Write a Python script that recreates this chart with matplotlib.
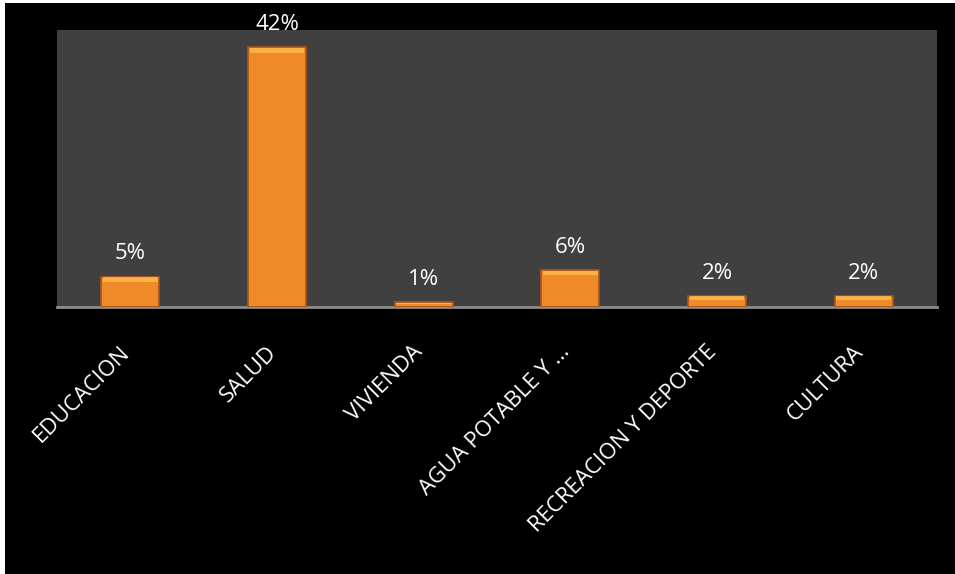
import matplotlib.pyplot as plt
from matplotlib.patches import Rectangle
import numpy as np

# datos del grafico
categorias = ["EDUCACION", "SALUD", "VIVIENDA", "AGUA POTABLE Y ...",
              "RECREACION Y DEPORTE", "CULTURA"]
porcentajes = [4.9, 42.0, 0.8, 6.0, 1.8, 1.8]
etiquetas = ["5%", "42%", "1%", "6%", "2%", "2%"]

W, H = 955, 574
fig = plt.figure(figsize=(W / 100, H / 100), dpi=100)
fig.patch.set_facecolor("white")

# fondo negro del recuadro (detras de los ejes)
fig.patches.append(Rectangle((5 / W, 0), 1 - 5 / W, 1 - 3 / H,
                             transform=fig.transFigure, facecolor="black",
                             edgecolor="none", zorder=-10))

ax = fig.add_axes([57 / W, (H - 307) / H, 880 / W, 277 / H])
ax.set_facecolor("#404040")

x = np.arange(len(categorias))
bars = ax.bar(x, porcentajes, width=0.395, color="#F08A28",
              edgecolor="#A9561A", linewidth=1.2, zorder=3)

# brillo superior en cada barra
for b in bars:
    h = b.get_height()
    hl = min(h * 0.3, 0.8)
    ax.add_patch(Rectangle((b.get_x() + 0.012, h - hl - 0.1), b.get_width() - 0.024, hl,
                           facecolor="#FFB84D", edgecolor="none", alpha=0.85, zorder=4))

for xi, v, t in zip(x, porcentajes, etiquetas):
    ax.annotate(t, (xi, v), xytext=(0, 12.5), textcoords="offset points",
                ha="center", va="baseline", color="white", fontsize=16,
                family="Open Sans", annotation_clip=False)

ax.set_xlim(-0.5, len(categorias) - 0.5)
ax.set_ylim(0, 44.8)
ax.set_yticks([])
ax.set_xticks(x)
ax.set_xticklabels(categorias, rotation=45, ha="right", va="baseline",
                   rotation_mode="anchor", color="white", fontsize=16,
                   family="Open Sans")
ax.tick_params(axis="x", length=0, pad=33)

for s in ["top", "left", "right"]:
    ax.spines[s].set_visible(False)
ax.spines["bottom"].set_color("#8C8C8C")
ax.spines["bottom"].set_linewidth(2)

fig.savefig("out.png", dpi=100)
